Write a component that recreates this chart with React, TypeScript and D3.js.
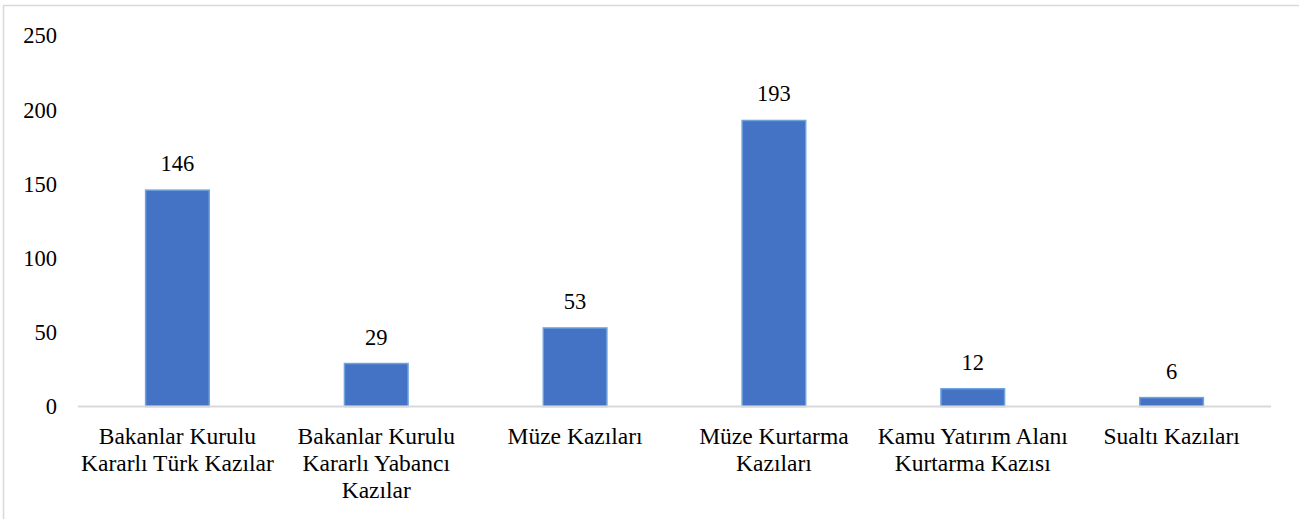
import React from "react";
import * as d3 from "d3";

const categories = [
  "Bakanlar Kurulu\nKararlı Türk Kazılar",
  "Bakanlar Kurulu\nKararlı Yabancı\nKazılar",
  "Müze Kazıları",
  "Müze Kurtarma\nKazıları",
  "Kamu Yatırım Alanı\nKurtarma Kazısı",
  "Sualtı Kazıları",
];
const values = [146, 29, 53, 193, 12, 6];
const yTicks = [0, 50, 100, 150, 200, 250];

const W = 1299;
const H = 519;
const FONT = "'Liberation Serif', 'Times New Roman', Times, serif";

export default function App() {
  const x = d3.scaleBand<string>().domain(categories).range([78, 1271]).paddingInner(0.68).paddingOuter(0.34);
  const y = d3.scaleLinear().domain([0, 250]).range([406.5, 36]);
  return (
    <svg width={W} height={H} style={{ position: "absolute", left: 0, top: 0, display: "block", fontFamily: FONT }}>
      <rect x={0} y={0} width={W} height={H} fill="#fff" />
      <rect x={3.5} y={5.5} width={W + 10} height={H + 10} fill="none" stroke="#d9d9d9" strokeWidth={1.5} />
      {yTicks.map((t) => (
        <text key={t} x={57} y={y(t)} dy="0.33em" textAnchor="end" fontSize={22.5} fill="#000" style={{ fontFamily: FONT }}>
          {t}
        </text>
      ))}
      {categories.map((c, i) => {
        const bx = x(c)!;
        const bw = x.bandwidth();
        return (
          <g key={c}>
            <rect x={bx} y={y(values[i])} width={bw} height={y(0) - y(values[i])} fill="#4472C4" stroke="#6fa3dc" strokeWidth={1.5} />
            <text x={bx + bw / 2} y={y(values[i]) - 19} textAnchor="middle" fontSize={22.5} fill="#000" style={{ fontFamily: FONT }}>
              {values[i]}
            </text>
          </g>
        );
      })}
      <line x1={78} x2={1271} y1={y(0)} y2={y(0)} stroke="#d9d9d9" strokeWidth={2} />
      {categories.map((c) => {
        const cx = x(c)! + x.bandwidth() / 2;
        return (
          <text key={c} textAnchor="middle" fontSize={23.5} fill="#000" style={{ fontFamily: FONT }}>
            {c.split("\n").map((line, j) => (
              <tspan key={j} x={cx} y={443.5 + j * 27}>
                {line}
              </tspan>
            ))}
          </text>
        );
      })}
    </svg>
  );
}
